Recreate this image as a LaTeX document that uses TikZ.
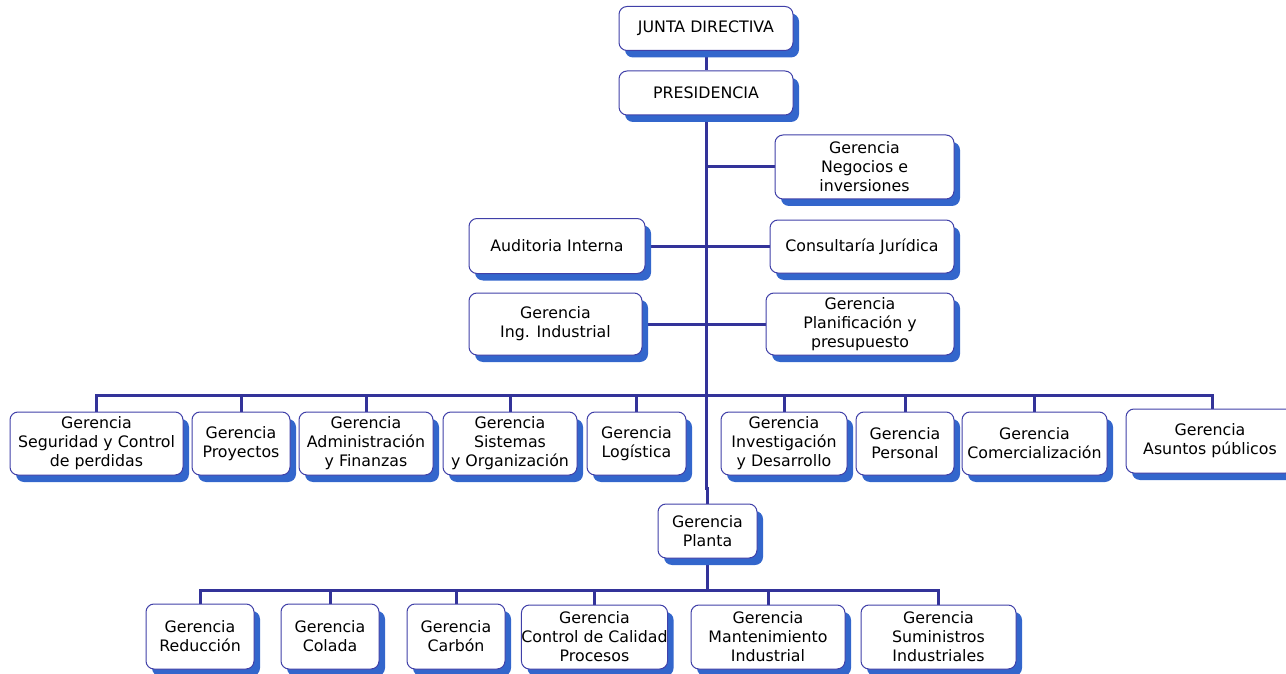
\documentclass[tikz,border=0pt]{standalone}
\usepackage{fontspec}
\setmainfont{DejaVu Sans}
\usetikzlibrary{shadows,backgrounds}

\definecolor{linkcol}{RGB}{51,51,153}
\definecolor{edgecol}{RGB}{64,64,168}
\definecolor{shadecol}{RGB}{51,102,204}

\tikzset{
  orgbox/.style={draw=edgecol, line width=1pt, fill=white, rounded corners=8pt,
    inner sep=0pt, align=center, text=black,
    font=\fontsize{15.8}{19}\selectfont,
    drop shadow={shadow xshift=6pt, shadow yshift=-7pt, fill=shadecol, opacity=1}},
  sz/.style 2 args={minimum width=#1pt, minimum height=#2pt},
  link/.style={draw=linkcol, line width=3pt}
}

\begin{document}
\begin{tikzpicture}[x=1pt,y=-1pt]
\useasboundingbox (0,0) rectangle (1286,674);

% top of the hierarchy
\node[orgbox, sz={174}{44}] (jd) at (706,28.5) {JUNTA DIRECTIVA};
\node[orgbox, sz={174}{44}] (pr) at (706,93) {PRESIDENCIA};

% staff units beside the trunk
\node[orgbox, sz={179}{64}] (neg) at (864.5,167) {Gerencia\\Negocios e\\inversiones};
\node[orgbox, sz={176}{55}] (aud) at (557,246) {Auditoria Interna};
\node[orgbox, sz={184}{53}] (con) at (862,246.5) {Consultaría Jurídica};
\node[orgbox, sz={173}{62}] (ing) at (555.5,324) {Gerencia\\Ing. Industrial};
\node[orgbox, sz={188}{62}] (pla) at (860,324) {Gerencia\\Planificación y\\presupuesto};

% line managements
\node[orgbox, sz={173}{63}] (seg) at (96.5,443.5) {Gerencia\\Seguridad y Control\\de perdidas};
\node[orgbox, sz={98}{63}]  (pro) at (241,443.5) {Gerencia\\Proyectos};
\node[orgbox, sz={134}{63}] (adm) at (366,443.5) {Gerencia\\Administración\\y Finanzas};
\node[orgbox, sz={134}{63}] (sis) at (510,443.5) {Gerencia\\Sistemas\\y Organización};
\node[orgbox, sz={99}{63}]  (log) at (636.5,443.5) {Gerencia\\Logística};
\node[orgbox, sz={126}{63}] (inv) at (784,443.5) {Gerencia\\Investigación\\y Desarrollo};
\node[orgbox, sz={98}{63}]  (per) at (905,443.5) {Gerencia\\Personal};
\node[orgbox, sz={145}{63}] (com) at (1034.5,443.5) {Gerencia\\Comercialización};
\node[orgbox, sz={168}{64}] (asu) at (1210,441) {Gerencia\\Asuntos públicos};

% plant and its departments
\node[orgbox, sz={99}{54}]  (plt) at (707.5,531) {Gerencia\\Planta};
\node[orgbox, sz={108}{65}] (red) at (200,636.5) {Gerencia\\Reducción};
\node[orgbox, sz={98}{65}]  (col) at (330,636.5) {Gerencia\\Colada};
\node[orgbox, sz={98}{65}]  (car) at (456,636.5) {Gerencia\\Carbón};
\node[orgbox, sz={145}{64}] (cal) at (594.5,637) {Gerencia\\Control de Calidad\\Procesos};
\node[orgbox, sz={154}{64}] (man) at (768,637) {Gerencia\\Mantenimiento\\Industrial};
\node[orgbox, sz={155}{64}] (sum) at (938.5,637) {Gerencia\\Suministros\\Industriales};

% junction points of the wiring
\coordinate (bus) at (706,395);
\coordinate (jog) at (706,488);
\coordinate (asudrop) at (1212,409);
\coordinate (pbus) at (707.5,590);

\begin{scope}[on background layer]
  \draw[link] (jd.south) -- (pr.north);
  \draw[link] (pr.south) -- (jog) -| (plt.north);
  % staff branches
  \draw[link] (neg.west -| pr.south) -- (neg.west);
  \draw[link] (aud.east) -- (aud.east -| con.west);
  \draw[link] (ing.east) -- (ing.east -| pla.west);
  % main bus
  \draw[link] (seg.north) |- (bus);
  \draw[link] (asudrop) |- (bus);
  \foreach \n in {pro,adm,sis,log,inv,per,com}
    \draw[link] (\n.north) -- (\n.north |- bus);
  % plant bus
  \draw[link] (plt.south) -- (pbus);
  \draw[link] (red.north) |- (pbus);
  \draw[link] (sum.north) |- (pbus);
  \foreach \n in {col,car,cal,man}
    \draw[link] (\n.north) -- (\n.north |- pbus);
\end{scope}
\end{tikzpicture}
\end{document}
